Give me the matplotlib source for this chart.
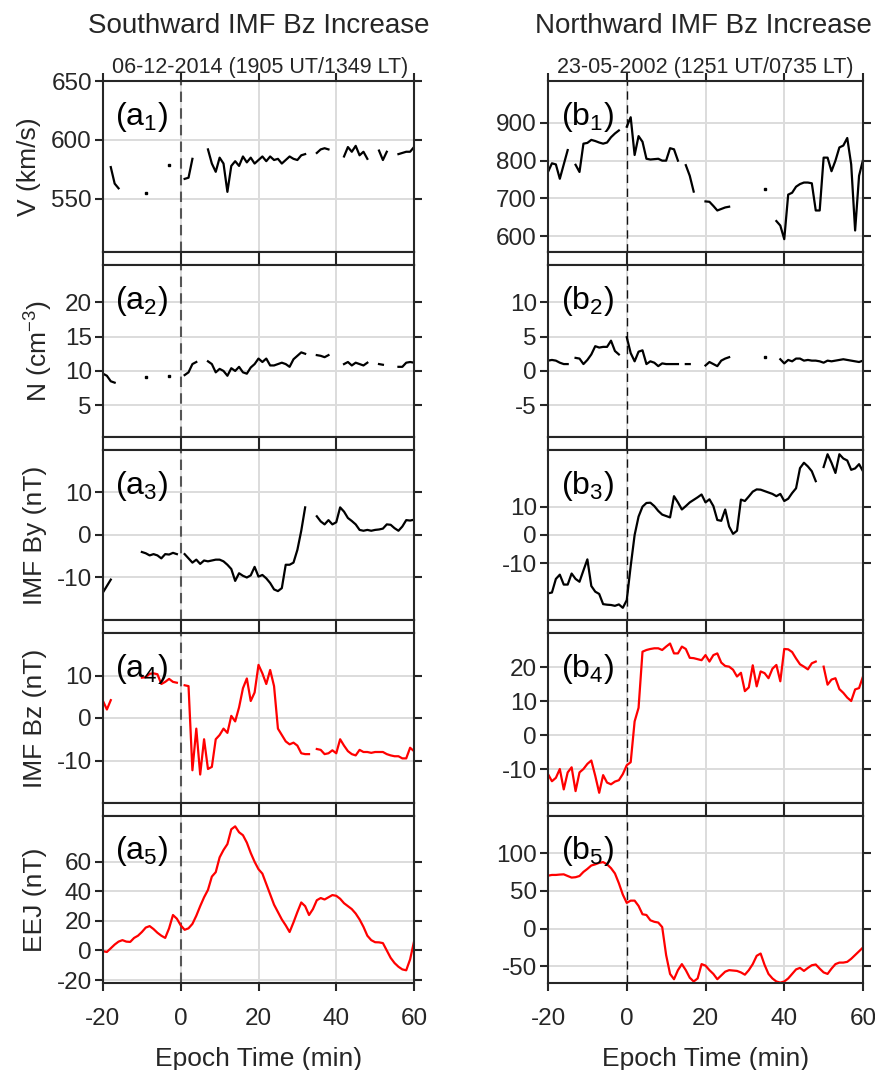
import numpy as np
import matplotlib.pyplot as plt

nan = np.nan
t = np.arange(-20, 61)  # epoch time (min)

# ---- Southward case (06-12-2014) ----
a_v = [nan, nan, 577, 563, 559, nan, nan, nan, nan, nan, nan, 555, nan, nan, nan, nan, nan, 579, nan, nan,
       nan, 567, 568, 584, nan, nan, nan, 592, 580, 573, 585, 580, 556, 578, 582, 578, 586, 581, 585, 580,
       583, 586, 582, 586, 583, 584, 580, 583, 586, 584, 583, 587, 588, nan, nan, 589, 592, 593, 592, nan,
       nan, nan, 586, 594, 590, 595, 587, 590, 584, nan, nan, 591, 583, 590, nan, nan, 588, 589, 590, 590, 594]
a_n = [9.6, 9.3, 8.5, 8.3, nan, nan, nan, nan, nan, nan, nan, 9.1, nan, nan, nan, nan, nan, 9.3, nan, nan,
       nan, 9.4, 9.8, 11.0, 11.3, nan, nan, 11.4, 11.0, 9.8, 10.3, 10.0, 9.3, 10.4, 10.0, 10.6, 9.8, 9.6, 10.5, 11.0,
       11.8, 11.3, 11.8, 10.8, 10.8, 11.0, 11.2, 11.0, 10.6, 11.7, 12.2, 12.7, 12.5, nan, nan, 12.3, 12.2, 12.0, 12.3, nan,
       nan, nan, 11.0, 11.3, 10.8, 11.2, 11.0, 10.8, 11.2, nan, nan, 11.0, 10.9, nan, nan, nan, 10.6, 10.6, 11.2, 11.3, 11.2]
a_by = [-13.5, -12.0, -10.5, nan, nan, nan, nan, nan, nan, nan, -4.0, -4.3, -4.8, -4.5, -4.8, -5.5, -4.5, -4.6, -4.2, -4.5,
        nan, -4.5, -5.5, -6.5, -5.8, -6.8, -6.0, -6.2, -6.0, -5.8, -5.8, -6.2, -7.0, -8.0, -10.8, -9.0, -9.6, -10.0, -9.5, -7.5,
        -9.8, -9.4, -10.2, -11.3, -12.8, -13.2, -12.5, -7.0, -7.0, -6.5, -3.5, 1.0, 6.5, nan, nan, 4.4, 3.2, 2.5, 3.5, 2.5,
        3.0, 6.5, 5.5, 4.0, 3.3, 2.5, 1.2, 1.0, 1.2, 1.0, 1.2, 1.3, 1.5, 2.5, 2.4, 1.6, 1.0, 2.0, 3.5, 3.4, 3.6]
a_bz = [4.0, 2.0, 4.2, nan, nan, nan, nan, nan, nan, nan, 9.5, 9.6, 10.4, 10.5, 10.3, 8.0, 8.5, 9.2, 8.5, 8.3,
        nan, 7.7, 7.5, -12.3, -2.5, -13.3, -5.0, -12.0, -11.5, -5.0, -4.0, -2.5, -3.5, 0.5, -0.8, 2.5, 7.0, 9.3, 4.0, 6.0,
        12.5, 10.5, 8.0, 11.3, 7.5, -2.5, -4.0, -5.5, -6.2, -5.8, -6.5, -8.3, -8.5, -8.5, nan, -7.3, -7.5, -8.5, -8.3, -7.6,
        -8.3, -5.0, -6.5, -7.8, -8.5, -8.8, -7.5, -8.0, -8.0, -8.2, -8.0, -8.0, -8.0, -8.5, -8.8, -9.0, -9.0, -9.5, -9.5, -7.0, -7.8]
a_eej = [-0.5, -1, 1.5, 4, 6, 7, 6, 5.8, 8.5, 10, 12.5, 15.5, 16.5, 14.5, 12, 10, 8.5, 15, 24, 21.5,
         17, 14, 15, 18, 23.5, 30, 36, 41, 50, 53, 63, 68, 72, 82, 84, 80, 78, 73, 66, 60,
         55, 52, 45, 38, 31, 26, 21, 17, 12.5, 19, 26, 32.5, 30, 24, 28, 34, 35.5, 34.5, 36, 37.5,
         37, 35, 32, 30, 28, 25, 21, 16, 10, 7, 5.6, 5.5, 5, 0, -5, -8.5, -11, -12.8, -13.4, -6, 6]

# ---- Northward case (23-05-2002) ----
b_v = [770, 793, 790, 752, 790, 828, nan, 789, 770, 845, 847, 855, 852, 848, 845, 848, 862, 872, 880, nan,
       890, 915, 815, 865, 850, 805, 803, 804, 805, 800, 800, 833, 830, 800, nan, 788, 760, 718, nan, nan,
       692, 691, 680, 668, 672, 676, 678, nan, nan, nan, nan, nan, nan, nan, nan, 726, nan, nan, 640, 628,
       592, 710, 715, 731, 738, 742, 742, 740, 668, 668, 808, 808, 772, 800, 835, 840, 860, 790, 615, 760, 802]
b_n = [1.5, 1.6, 1.5, 1.2, 1.0, 1.0, nan, 1.9, 1.8, 1.0, 1.6, 2.4, 3.6, 3.4, 3.5, 3.5, 4.4, 2.9, 2.4, nan,
       4.9, 2.6, 1.4, 2.8, 3.0, 1.0, 1.4, 1.2, 0.7, 1.1, 1.0, 1.0, 1.0, 1.0, nan, 1.0, 1.0, nan, nan, nan,
       0.8, 1.3, 1.0, 0.7, 1.5, 1.8, 2.0, nan, nan, nan, nan, nan, nan, nan, nan, 2.0, nan, nan, nan, 1.7,
       1.1, 1.6, 1.4, 1.8, 1.8, 1.5, 1.6, 1.5, 1.5, 1.4, 1.2, 1.5, 1.4, 1.5, 1.6, 1.7, 1.6, 1.5, 1.4, 1.3, 1.5]
b_by = [-20.6, -20.3, -15.5, -14, -17.5, -17.5, -13.6, -15.5, -16.5, -12.5, -8.6, -18, -20, -20.8, -24.4, -24.6, -24.7, -25, -24.5, -25.7,
        -23, -11, 0, 6.5, 10, 11.3, 11.4, 10.2, 8.5, 7.2, 6.7, 6.2, 13.7, 11.5, 9.0, 10.2, 11.5, 12.4, 13.3, 14.3,
        11.5, 12.6, 10.2, 5.3, 5, 9, 3, 0.4, 1.5, 12.5, 12, 13.6, 15.3, 16.1, 16, 15.5, 15, 14.5, 13.7, 14.5,
        12, 12.8, 14.8, 16.5, 23.6, 25.5, 24.2, 22.5, 19, nan, 24, 28.5, 25.5, 21.9, 28.5, 27, 26.3, 23, 23.5, 25, 22.5]
b_bz = [-11.5, -13.6, -12.6, -10, -16, -11, -9.5, -16.5, -11, -10, -8.5, -7.5, -12, -17, -11.8, -14, -14.5, -13.7, -13.3, -11.5,
        -8.9, -8, 4, 8, 24.5, 25, 25.3, 25.5, 25.5, 25, 26, 26.9, 24, 24, 26, 25.3, 22.7, 22.6, 22.3, 22,
        23.5, 21.6, 23.5, 24, 21.3, 20.3, 20.1, 19.2, 17.2, 18.3, 12.9, 14, 20.5, 14.3, 18.7, 18.2, 16.7, 19.5, 20.6, 15.8,
        25.3, 25.2, 24.4, 22.5, 20.8, 20.1, 19.3, 21.1, 21.6, nan, 20.1, 14.8, 16.3, 16.7, 13.5, 12.4, 11, 10, 13.4, 13.8, 17.2]
b_eej = [70, 71, 71, 71.5, 71.8, 69.6, 67.5, 68, 69.6, 75, 79, 83.5, 85, 87, 88, 85, 80, 73, 60, 45,
         34, 37, 37, 30, 19, 18, 11, 9, 8, 2, -35, -60, -67, -55, -47, -55, -65, -70, -66, -47,
         -49, -55, -60, -67, -62, -57, -55, -55.5, -56, -58, -61, -55, -47, -36, -33, -48, -60, -66, -70, -71.5,
         -70, -66, -60, -54, -52, -56, -52, -48.5, -47.5, -53, -58, -60, -53, -47, -45, -45, -44, -40, -35, -30, -25]

ylabels = ['V (km/s)', 'N (cm$^{-3}$)', 'IMF By (nT)', 'IMF Bz (nT)', 'EEJ (nT)']
a_ticks = [[550, 600, 650], [5, 10, 15, 20], [-10, 0, 10], [-10, 0, 10], [-20, 0, 20, 40, 60]]
b_ticks = [[600, 700, 800, 900], [-5, 0, 5, 10], [-10, 0, 10], [-10, 0, 10, 20], [-50, 0, 50, 100]]
a_lims = [(505, 650), (0.4, 25.4), (-20, 20), (-20, 20), (-22, 91)]
b_lims = [(558, 1011), (-9.6, 15.4), (-30, 30), (-20, 30), (-72, 149)]
colors = ['k', 'k', 'k', 'r', 'r']

plt.rcParams['font.family'] = ['Liberation Sans', 'DejaVu Sans']
plt.rcParams['mathtext.fontset'] = 'custom'
plt.rcParams['mathtext.rm'] = 'Liberation Sans'
plt.rcParams['mathtext.it'] = 'Liberation Sans'
plt.rcParams['axes.unicode_minus'] = False
dark = '#262626'

W, H = 875, 1070
fig = plt.figure(figsize=(W / 100, H / 100), dpi=100)

rows = [(81, 252), (265, 437), (450, 620), (633, 803), (816, 983)]
cols = [(103, 414), (548, 863)]


def frac(x0, x1, y0, y1):
    return [x0 / W, 1 - y1 / H, (x1 - x0) / W, (y1 - y0) / H]


def draw_col(ci, series, ticks, lims, letter, dash_col, dash_lw, dashes):
    x0, x1 = cols[ci]
    for i, (y0, y1) in enumerate(rows):
        ax = fig.add_axes(frac(x0, x1, y0, y1))
        y = np.array(series[i], dtype=float)
        ax.plot(t, y, color=colors[i], lw=1.6)
        # isolated samples (no neighbours) drawn as dots
        ok = np.isfinite(y)
        prev = np.r_[False, ok[:-1]]
        nxt = np.r_[ok[1:], False]
        lone = ok & ~prev & ~nxt
        ax.plot(t[lone], y[lone], 's', color=colors[i], ms=1.6)
        ax.axvline(0, color=dash_col, lw=dash_lw, dashes=dashes, zorder=1)
        ax.set_xlim(-20, 60)
        ax.set_ylim(*lims[i])
        ax.set_yticks(ticks[i])
        ax.set_xticks([-20, 0, 20, 40, 60])
        ax.grid(True, color='#dcdcdc', lw=1.4, zorder=0)
        ax.set_axisbelow(True)
        ax.tick_params(direction='out', length=6, width=1.5, colors=dark, labelsize=17.5,
                       right=True, top=(i == 0), bottom=(i == 4), labelbottom=(i == 4), pad=2)
        ax.tick_params(axis='x', pad=12)
        for s in ax.spines.values():
            s.set_color(dark)
            s.set_linewidth(1.5)
        ax.text(0.04, 0.79, '(%s$_{%d}$)' % (letter, i + 1), transform=ax.transAxes,
                fontsize=23, color='k', va='center', ha='left')
        if ci == 0:
            ax.set_ylabel(ylabels[i], fontsize=19, color=dark, labelpad=7)
        if i == 4:
            ax.set_xlabel('Epoch Time (min)', fontsize=19, color=dark, labelpad=12)
        if i < 4:
            # thin strip between panels
            sa = fig.add_axes(frac(x0, x1, y1, rows[i + 1][0]))
            sa.set_xlim(-20, 60)
            sa.set_xticks([])
            sa.set_yticks([])
            for xv in [0, 20, 40]:
                sa.axvline(xv, color=dark, lw=1.5)
            for s in sa.spines.values():
                s.set_color(dark)
                s.set_linewidth(1.5)


draw_col(0, [a_v, a_n, a_by, a_bz, a_eej], a_ticks, a_lims, 'a', '#555555', 1.5, (5, 3))
draw_col(1, [b_v, b_n, b_by, b_bz, b_eej], b_ticks, b_lims, 'b', '#111111', 1.0, (6, 4))

fig.text(259 / W, 1 - 26 / H, 'Southward IMF Bz Increase', ha='center', va='center', fontsize=20, color=dark)
fig.text(703 / W, 1 - 26 / H, 'Northward IMF Bz Increase', ha='center', va='center', fontsize=20, color=dark)
fig.text(260 / W, 1 - 67 / H, '06-12-2014 (1905 UT/1349 LT)', ha='center', va='center', fontsize=15.5, color=dark)
fig.text(705 / W, 1 - 67 / H, '23-05-2002 (1251 UT/0735 LT)', ha='center', va='center', fontsize=15.5, color=dark)

fig.savefig('out.png', dpi=100)
